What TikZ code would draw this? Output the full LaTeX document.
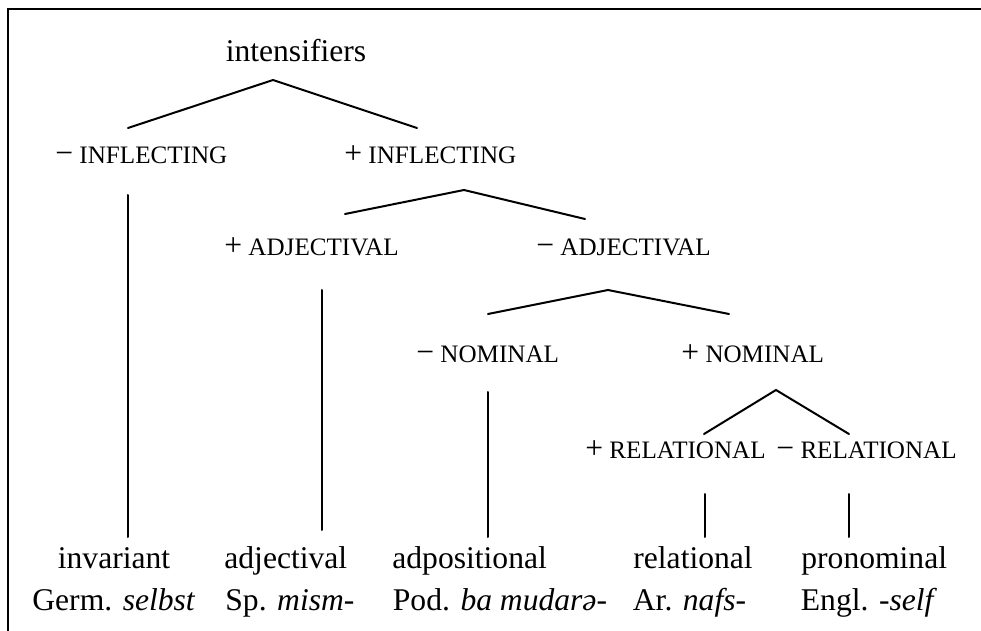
\documentclass[tikz,border=0pt]{standalone}
\usepackage{fontspec}
\setmainfont{Liberation Serif}
\newcommand{\bigsize}{\fontsize{15.8pt}{18pt}\selectfont}
\newcommand{\capsize}{\fontsize{12.55pt}{15pt}\selectfont}
\newcommand{\fminus}{{\bigsize −}}
\newcommand{\fplus}{{\bigsize +}}
\begin{document}
\begin{tikzpicture}[x=0.5pt,y=-0.5pt,
  feat/.style={anchor=base west,inner sep=0pt,font=\capsize},
  word/.style={anchor=base west,inner sep=0pt,font=\bigsize},
  branch/.style={line width=1pt,line cap=round,line join=miter},
  frame/.style={line width=1pt}]
\useasboundingbox (0,0) rectangle (981,631);
% frame (only top and left edges fall inside the page)
\draw[frame] (8,700) -- (8,9) -- (1050,9);

% root
\node[word,anchor=base] (root) at (296,62) {intensifiers};

% feature labels
\node[feat] (infm) at (55,163)  {\fminus\ INFLECTING};
\node[feat] (infp) at (344,163) {\fplus\ INFLECTING};
\node[feat] (adjp) at (224,256) {\fplus\ ADJECTIVAL};
\node[feat] (adjm) at (536,256) {\fminus\ ADJECTIVAL};
\node[feat] (nomm) at (416,362) {\fminus\ NOMINAL};
\node[feat] (nomp) at (681,362) {\fplus\ NOMINAL};
\node[feat] (relp) at (585,458) {\fplus\ RELATIONAL};
\node[feat] (relm) at (776,458) {\fminus\ RELATIONAL};

% leaves
\node[word] (l1a) at (57.5,568) {invariant};
\node[word] (l1b) at (32,610)   {Germ. \textit{selbst}};
\node[word] (l2a) at (224,568)  {adjectival};
\node[word] (l2b) at (225,610)  {Sp. \textit{mism}-};
\node[word] (l3a) at (392,568)  {adpositional};
\node[word] (l3b) at (392.5,610){Pod. \textit{ba mudarə}-};
\node[word] (l4a) at (633,568)  {relational};
\node[word] (l4b) at (632.5,610){Ar. \textit{nafs}-};
\node[word] (l5a) at (801,568)  {pronominal};
\node[word] (l5b) at (800.5,610){Engl. -\textit{self}};

% branch points
\coordinate (r0)  at (273,80);
\coordinate (r0l) at (128,128);
\coordinate (r0r) at (417,128);
\coordinate (a0)  at (464,190);
\coordinate (a0l) at (345,214);
\coordinate (a0r) at (585,219);
\coordinate (b0)  at (608,290);
\coordinate (b0l) at (488,314);
\coordinate (b0r) at (729,314);
\coordinate (c0)  at (776,390);
\coordinate (c0l) at (704,434);
\coordinate (c0r) at (849,434);

% stems down to leaves
\coordinate (s1t) at (128,195); \coordinate (s1b) at (128,537);
\coordinate (s2t) at (322,290); \coordinate (s2b) at (322,530);
\coordinate (s3t) at (488,392); \coordinate (s3b) at (488,537);
\coordinate (s4t) at (705,494); \coordinate (s4b) at (705,537);
\coordinate (s5t) at (849,494); \coordinate (s5b) at (849,537);

\draw[branch] (r0l) -- (r0) -- (r0r);
\draw[branch] (a0l) -- (a0) -- (a0r);
\draw[branch] (b0l) -- (b0) -- (b0r);
\draw[branch] (c0l) -- (c0) -- (c0r);
\draw[branch] (s1t) -- (s1b);
\draw[branch] (s2t) -- (s2b);
\draw[branch] (s3t) -- (s3b);
\draw[branch] (s4t) -- (s4b);
\draw[branch] (s5t) -- (s5b);
\end{tikzpicture}
\end{document}
